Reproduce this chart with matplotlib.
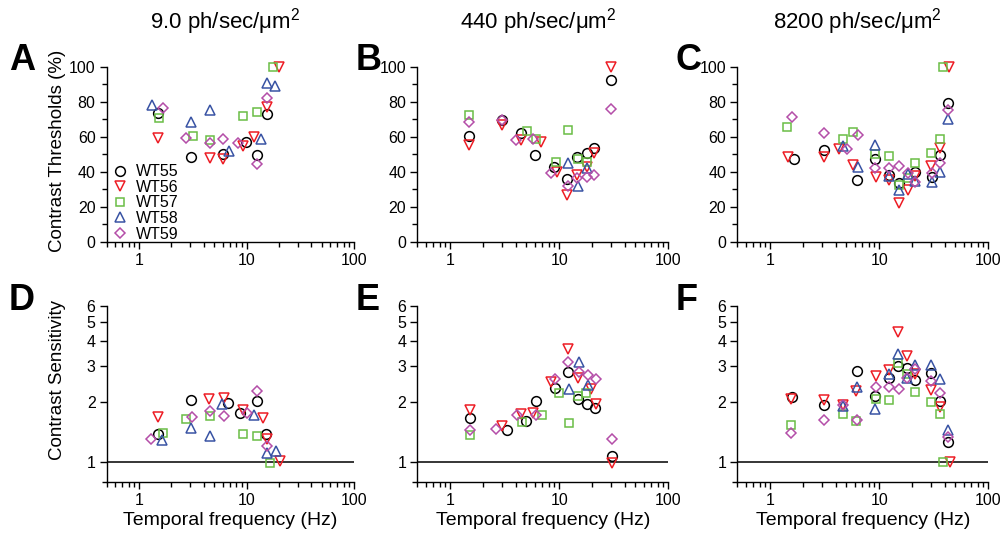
import matplotlib
matplotlib.use("Agg")
import matplotlib.pyplot as plt
from matplotlib.ticker import FixedLocator, FixedFormatter, NullFormatter

plt.rcParams["font.family"] = ["Liberation Sans", "DejaVu Sans"]
plt.rcParams["mathtext.fontset"] = "custom"
plt.rcParams["mathtext.rm"] = "Liberation Sans"
plt.rcParams["mathtext.it"] = "Liberation Sans:italic"

STRAINS = ["WT55", "WT56", "WT57", "WT58", "WT59"]
COLORS = ["#000000", "#ed1c24", "#6abd45", "#3953a4", "#b44ea8"]
MARKERS = ["o", "v", "s", "^", "D"]
MSIZES = [7, 7.5, 6.2, 7.5, 5.6]

COL_TITLES = ["9.0 ph/sec/μm$^2$", "440 ph/sec/μm$^2$", "8200 ph/sec/μm$^2$"]

# panel A: 9.0 ph/sec/um2, contrast thresholds (%)  -> (freq Hz, value)
A_WT55 = ([1.5, 3.07, 5.98, 9.8, 12.4, 15.6], [73.3, 48.6, 49.9, 57.1, 49.5, 72.8])
A_WT56 = ([1.5, 4.55, 6.1, 9.3, 11.7, 15.4, 20.2], [59, 48, 47.3, 54.5, 59.6, 77, 100])
A_WT57 = ([1.52, 3.2, 4.55, 9.3, 12.4, 17.6], [70.5, 60.4, 58.3, 71.8, 73.9, 100])
A_WT58 = ([1.33, 3.02, 4.55, 6.8, 13.7, 15.4, 18.6], [78, 68.6, 75.2, 51.6, 58.6, 90.9, 89])
A_WT59 = ([1.68, 2.72, 4.6, 6.1, 8.4, 12.4, 15.6], [76.6, 59.4, 56.2, 58.7, 56.6, 44.4, 82.3])

# panel B: 440 ph/sec/um2
B_WT55 = ([1.5, 2.98, 4.48, 6.02, 9.0, 11.9, 14.7, 17.9, 20.9, 30],
          [60.4, 69.5, 61.9, 49.5, 42.9, 35.6, 48.6, 50.9, 53.7, 92.4])
B_WT56 = ([1.5, 3.0, 4.5, 6.84, 9.5, 11.9, 14.7, 18.0, 20.9, 30],
          [55.2, 66.7, 58.1, 57.1, 40, 26.7, 38.1, 42.9, 50.5, 100])
B_WT57 = ([1.5, 5.05, 6.15, 9.3, 12.0, 14.9, 18.0], [72.4, 63.2, 58.5, 45.7, 63.8, 47.2, 45.7])
B_WT58 = ([12.0, 14.9, 18.0], [44.8, 32.0, 41.9])
B_WT59 = ([1.5, 3.0, 4.03, 5.7, 8.4, 12.0, 14.7, 18.0, 21.0, 30],
          [68.6, 69.5, 58.1, 58.5, 39.0, 32.0, 36.2, 37.1, 38.1, 75.8])

# panel C: 8200 ph/sec/um2
C_WT55 = ([1.65, 3.1, 6.22, 9.2, 12.3, 15.2, 21.4, 30.3, 36.4, 42.4],
          [47.2, 52.4, 35.2, 47.2, 38.1, 33.5, 39.8, 36.8, 49.5, 79.4])
C_WT56 = ([1.47, 3.1, 4.24, 5.72, 9.3, 12.3, 15.2, 18.4, 21.5, 30, 36.3, 44.0],
          [48.6, 48.6, 52.8, 43.8, 37.1, 35.0, 22.3, 29.3, 37.3, 43.5, 53.6, 100])
C_WT57 = ([1.44, 4.64, 5.72, 9.2, 12.3, 15.2, 18.2, 21.3, 30.1, 36.4, 38.7],
          [65.7, 58.5, 62.5, 49.9, 49.1, 32.6, 36.2, 45.0, 50.7, 58.6, 100])
C_WT58 = ([4.64, 6.35, 9.2, 12.3, 15.2, 18.3, 21.3, 30.2, 36.4, 42.4],
          [54.7, 42.9, 55.2, 37.5, 29.7, 38.5, 34.5, 34.3, 40, 70.1])
C_WT59 = ([1.57, 3.1, 5.08, 6.44, 9.2, 12.3, 15.2, 18.2, 21.3, 30.2, 36.4, 42.4],
          [71.4, 61.9, 52.8, 61.0, 42.4, 42.4, 43.2, 39.1, 34.3, 39.0, 45.1, 75.0])

# panel D: 9.0 ph/sec/um2, contrast sensitivity
D_WT55 = ([1.5, 3.07, 6.75, 8.67, 12.4, 15.3], [1.38, 2.05, 1.98, 1.76, 2.02, 1.38])
D_WT56 = ([1.5, 4.48, 6.15, 9.3, 14.1, 15.4, 20.4], [1.68, 2.06, 2.09, 1.82, 1.67, 1.31, 1.02])
D_WT57 = ([1.67, 2.72, 4.55, 9.3, 12.4, 16.7], [1.40, 1.65, 1.70, 1.39, 1.35, 0.99])
D_WT58 = ([1.64, 3.07, 4.55, 5.85, 11.7, 15.4, 18.8], [1.29, 1.48, 1.35, 1.95, 1.71, 1.11, 1.14])
D_WT59 = ([1.30, 3.14, 4.55, 6.15, 10.0, 12.4, 15.4], [1.30, 1.68, 1.80, 1.69, 1.76, 2.26, 1.21])

# panel E: 440 ph/sec/um2
E_WT55 = ([1.51, 3.35, 5.0, 6.1, 9.1, 12.1, 15.0, 18.1, 21.3, 30.7],
          [1.66, 1.44, 1.61, 2.02, 2.35, 2.82, 2.07, 1.96, 1.87, 1.08])
E_WT56 = ([1.51, 2.99, 4.5, 5.76, 8.4, 12.1, 15.0, 19.4, 21.6, 30.7],
          [1.83, 1.51, 1.73, 1.76, 2.51, 3.66, 2.62, 2.31, 1.95, 0.99])
E_WT57 = ([1.52, 4.6, 6.88, 10.0, 12.3, 15.0, 17.6], [1.37, 1.58, 1.71, 2.20, 1.57, 2.14, 2.22])
E_WT58 = ([12.3, 15.1, 18.5], [2.31, 3.16, 2.42])
E_WT59 = ([1.52, 2.61, 4.14, 6.1, 9.1, 12.1, 15.1, 18.2, 21.6, 30.7],
          [1.45, 1.46, 1.71, 1.71, 2.61, 3.14, 2.82, 2.71, 2.61, 1.31])

# panel F: 8200 ph/sec/um2
F_WT55 = ([1.57, 3.1, 6.22, 9.2, 12.3, 15.0, 18.1, 21.2, 30.1, 36.3, 42.4],
          [2.12, 1.92, 2.85, 2.14, 2.64, 3.0, 2.96, 2.57, 2.79, 2.03, 1.26])
F_WT56 = ([1.55, 3.1, 4.64, 6.12, 9.3, 12.3, 15.0, 18.1, 21.2, 30.0, 36.3, 44.2],
          [2.07, 2.05, 1.92, 2.26, 2.69, 2.88, 4.44, 3.39, 2.74, 2.28, 1.88, 1.0])
F_WT57 = ([1.55, 4.64, 6.12, 9.3, 12.3, 15.0, 18.1, 21.2, 30.0, 36.3, 38.5],
          [1.53, 1.73, 1.61, 2.07, 2.04, 3.11, 2.76, 2.24, 1.99, 1.73, 1.0])
F_WT58 = ([4.64, 6.22, 9.2, 12.3, 15.0, 18.1, 21.2, 30.0, 36.3, 42.4],
          [1.90, 2.38, 1.84, 2.74, 3.45, 2.64, 3.04, 3.04, 2.59, 1.45])
F_WT59 = ([1.55, 3.1, 4.64, 6.22, 9.3, 12.3, 15.2, 18.1, 21.2, 30.0, 36.3, 42.4],
          [1.40, 1.62, 1.92, 1.63, 2.38, 2.38, 2.32, 2.62, 2.90, 2.54, 2.22, 1.33])

TOP_DATA = [[A_WT55, A_WT56, A_WT57, A_WT58, A_WT59],
            [B_WT55, B_WT56, B_WT57, B_WT58, B_WT59],
            [C_WT55, C_WT56, C_WT57, C_WT58, C_WT59]]
BOT_DATA = [[D_WT55, D_WT56, D_WT57, D_WT58, D_WT59],
            [E_WT55, E_WT56, E_WT57, E_WT58, E_WT59],
            [F_WT55, F_WT56, F_WT57, F_WT58, F_WT59]]

X_MAJOR = [1, 10, 100]
X_MINOR = [0.5, 0.6, 0.7, 0.8, 0.9] + list(range(2, 10)) + list(range(20, 100, 10))
SENS_TICKS = [1, 2, 3, 4, 5, 6]

W, H = 1003, 540
COL_LEFT = [106.7, 417.3, 737.3]
COL_WIDTH = [247.3, 251, 251]
LETTERS_TOP = ["A", "B", "C"]
LETTERS_BOT = ["D", "E", "F"]
LETTER_X = [9, 356, 676]


def style_xaxis(ax):
    ax.set_xscale("log")
    ax.set_xlim(0.5, 100)
    ax.xaxis.set_major_locator(FixedLocator(X_MAJOR))
    ax.xaxis.set_major_formatter(FixedFormatter([str(v) for v in X_MAJOR]))
    ax.xaxis.set_minor_locator(FixedLocator(X_MINOR))
    ax.xaxis.set_minor_formatter(NullFormatter())
    for side in ("top", "right"):
        ax.spines[side].set_visible(False)
    for side in ("left", "bottom"):
        ax.spines[side].set_linewidth(1.0)
    ax.tick_params(which="major", direction="out", length=5, width=1.0,
                   labelsize=11.5, pad=3)
    ax.tick_params(which="minor", direction="out", length=3.5, width=1.0)


def draw_points(ax, series):
    for (x, y), c, m, ms, name in zip(series, COLORS, MARKERS, MSIZES, STRAINS):
        ax.plot(x, y, linestyle="none", marker=m, ms=ms, mfc="none", mec=c,
                mew=1.1, clip_on=False, label=name)


fig = plt.figure(figsize=(W / 100, H / 100), dpi=100)

for col in range(3):
    left = COL_LEFT[col] / W
    width = COL_WIDTH[col] / W

    # threshold panels
    ax = fig.add_axes([left, 1 - 241.7 / H, width, 175 / H])
    draw_points(ax, TOP_DATA[col])
    style_xaxis(ax)
    ax.set_ylim(0, 100)
    ax.yaxis.set_major_locator(FixedLocator([0, 20, 40, 60, 80, 100]))
    ax.yaxis.set_minor_locator(FixedLocator([10, 30, 50, 70, 90]))
    if col == 0:
        ax.set_ylabel("Contrast Thresholds (%)", fontsize=13.5)
        ax.yaxis.set_label_coords(-0.165, 0.52)
        ax.legend(loc="lower left", bbox_to_anchor=(0.02, 0.0), frameon=False,
                  fontsize=11.5, borderpad=0, borderaxespad=0, handlelength=1.0,
                  handletextpad=0.55, labelspacing=0.04)
    fig.text(LETTER_X[col] / W, 1 - 61 / H, LETTERS_TOP[col], fontsize=26,
             fontweight="bold", va="center", ha="left")
    fig.text((COL_LEFT[col] + 0.48 * COL_WIDTH[col]) / W, 1 - 22 / H,
             COL_TITLES[col], fontsize=16, ha="center", va="center")

    # sensitivity panels
    ax = fig.add_axes([left, 1 - 481.7 / H, width, 175.7 / H])
    ax.axhline(1, color="black", lw=1.1, zorder=1)
    draw_points(ax, BOT_DATA[col])
    style_xaxis(ax)
    ax.set_yscale("log")
    ax.set_ylim(0.8, 6)
    ax.yaxis.set_major_locator(FixedLocator(SENS_TICKS))
    ax.yaxis.set_major_formatter(FixedFormatter([str(v) for v in SENS_TICKS]))
    ax.yaxis.set_minor_locator(FixedLocator([0.8]))
    ax.yaxis.set_minor_formatter(NullFormatter())
    ax.set_xlabel("Temporal frequency (Hz)", fontsize=14)
    ax.xaxis.set_label_coords(0.5, -0.175)
    if col == 0:
        ax.set_ylabel("Contrast Sensitivity", fontsize=13.5)
        ax.yaxis.set_label_coords(-0.165, 0.58)
    fig.text(LETTER_X[col] / W, 1 - 300 / H, LETTERS_BOT[col], fontsize=26,
             fontweight="bold", va="center", ha="left")

fig.savefig("out.png", dpi=100)
